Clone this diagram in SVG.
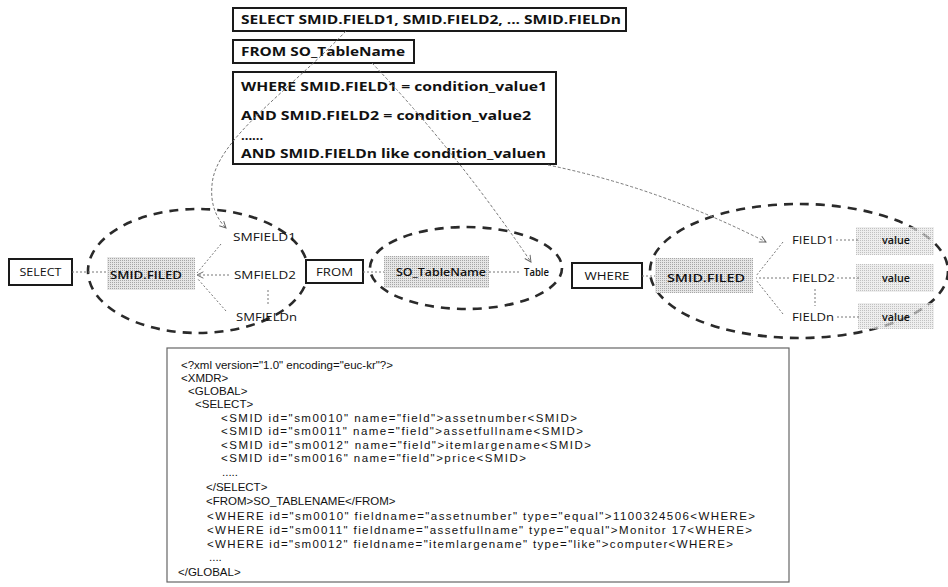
<svg xmlns="http://www.w3.org/2000/svg" width="948" height="587" viewBox="0 0 948 587">
<style>
.q{font-family:"Open Sans","Noto Sans","Liberation Sans",sans-serif;font-weight:700;font-size:13px;fill:#111}
.n{font-family:"Open Sans","Noto Sans","Liberation Sans",sans-serif;font-size:11px;fill:#111}
.s{font-family:"Open Sans","Noto Sans","Liberation Sans",sans-serif;font-weight:600;font-size:11.5px;fill:#111}
.x{font-family:"Liberation Sans","Noto Sans",sans-serif;font-size:11.5px;fill:#111}
.box{fill:#fff;stroke:#1a1a1a;stroke-width:2}
.ell{fill:none;stroke:#2a2a2a;stroke-width:2.6;stroke-dasharray:9 7}
.shade{fill:url(#ht)}
.dot{fill:none;stroke:#777;stroke-width:1;stroke-dasharray:2 2}
.con{fill:none;stroke:#777;stroke-width:1;stroke-dasharray:3 2}
</style>
<defs>
<pattern id="ht" width="2" height="2" patternUnits="userSpaceOnUse">
<rect width="2" height="2" fill="#e6e6e6"/>
<rect width="1" height="1" fill="#a6a6a6"/>
</pattern>
<marker id="ar" viewBox="0 0 10 10" refX="9" refY="5" markerWidth="8" markerHeight="8" orient="auto" markerUnits="userSpaceOnUse">
<path d="M1,1 L9,5 L1,9" fill="none" stroke="#666" stroke-width="1.2"/>
</marker>
</defs>
<rect width="948" height="587" fill="#fff"/>

<g id="query-select">
<rect class="box" x="233" y="8" width="393" height="23"/>
<text class="q" x="241" y="24" textLength="380" lengthAdjust="spacingAndGlyphs">SELECT SMID.FIELD1, SMID.FIELD2, ... SMID.FIELDn</text>
</g>
<g id="query-from">
<rect class="box" x="233" y="40" width="181" height="23"/>
<text class="q" x="241" y="56" textLength="164" lengthAdjust="spacingAndGlyphs">FROM SO_TableName</text>
</g>
<g id="query-where">
<rect class="box" x="233" y="72" width="323" height="92"/>
<text class="q" x="241" y="91" textLength="306" lengthAdjust="spacingAndGlyphs">WHERE SMID.FIELD1  = condition_value1</text>
<text class="q" x="241" y="120" textLength="290" lengthAdjust="spacingAndGlyphs">AND SMID.FIELD2  = condition_value2</text>
<text class="q" x="241" y="140" font-size="6">......</text>
<text class="q" x="241" y="158" textLength="305" lengthAdjust="spacingAndGlyphs">AND SMID.FIELDn like condition_valuen</text>
</g>

<g id="select-group">
<ellipse class="ell" cx="198" cy="271" rx="110" ry="62"/>
<rect class="box" x="9" y="259" width="63" height="26"/>
<text class="n" x="40.5" y="276" text-anchor="middle" textLength="42" lengthAdjust="spacingAndGlyphs">SELECT</text>
<rect class="shade" x="107" y="257" width="88" height="33"/>
<text class="s" x="146" y="279" text-anchor="middle" textLength="72" lengthAdjust="spacingAndGlyphs">SMID.FILED</text>
<text class="n" x="233" y="241" textLength="63" lengthAdjust="spacingAndGlyphs">SMFIELD1</text>
<text class="n" x="234" y="279" textLength="62" lengthAdjust="spacingAndGlyphs">SMFIELD2</text>
<text class="n" x="236" y="321" textLength="61" lengthAdjust="spacingAndGlyphs">SMFIELDn</text>
</g>

<g id="from-group">
<ellipse class="ell" cx="466" cy="268" rx="96" ry="41"/>
<rect class="box" x="306" y="260" width="57" height="23"/>
<text class="n" x="334.5" y="276" text-anchor="middle" textLength="37" lengthAdjust="spacingAndGlyphs">FROM</text>
<rect class="shade" x="384" y="256" width="105" height="32"/>
<text class="s" x="441" y="276" text-anchor="middle" textLength="90" lengthAdjust="spacingAndGlyphs">SO_TableName</text>
<text class="s" x="524" y="276" textLength="25" lengthAdjust="spacingAndGlyphs">Table</text>
</g>

<g id="where-group">
<ellipse class="ell" cx="799" cy="271" rx="149" ry="67"/>
<rect class="box" x="572" y="263" width="70" height="25"/>
<text class="n" x="607" y="280" text-anchor="middle" textLength="45" lengthAdjust="spacingAndGlyphs">WHERE</text>
<rect class="shade" x="655" y="258" width="98" height="35"/>
<text class="s" x="706" y="282" text-anchor="middle" textLength="78" lengthAdjust="spacingAndGlyphs">SMID.FILED</text>
<text class="n" x="792" y="244" textLength="42" lengthAdjust="spacingAndGlyphs">FIELD1</text>
<text class="n" x="792" y="282" textLength="43" lengthAdjust="spacingAndGlyphs">FIELD2</text>
<text class="n" x="792" y="321" textLength="42" lengthAdjust="spacingAndGlyphs">FIELDn</text>
<rect class="shade" x="856" y="227" width="78" height="28" opacity="0.7"/>
<rect class="shade" x="856" y="264" width="78" height="28" opacity="0.7"/>
<rect class="shade" x="858" y="303" width="76" height="26" opacity="0.7"/>
<text class="s" x="882" y="244" textLength="28" lengthAdjust="spacingAndGlyphs">value</text>
<text class="s" x="882" y="282" textLength="28" lengthAdjust="spacingAndGlyphs">value</text>
<text class="s" x="882" y="321" textLength="28" lengthAdjust="spacingAndGlyphs">value</text>
</g>

<g id="connectors">
<path class="con" d="M346,31 C290,90 215,140 212,185 C210,205 217,219 226,228" marker-end="url(#ar)"/>
<path class="con" d="M372,63 Q455,150 531,262" marker-end="url(#ar)"/>
<path class="con" d="M548,165 Q660,188 766,242" marker-end="url(#ar)"/>
<path class="dot" d="M72,272 H107"/>
<path class="dot" d="M221,244 L197,273"/>
<path class="dot" d="M229,275 H197" marker-end="url(#ar)"/>
<path class="dot" d="M226,311 L197,278"/>
<path class="dot" d="M268,290 V304"/>
<path class="dot" d="M363,272 H384"/>
<path class="dot" d="M489,272 H521"/>
<path class="dot" d="M642,276 H655"/>
<path class="dot" d="M783,242 L756,276"/>
<path class="dot" d="M789,278 H756"/>
<path class="dot" d="M783,314 L756,280"/>
<path class="dot" d="M815,289 V306"/>
<path class="dot" d="M836,240 H858"/>
<path class="dot" d="M837,278 H860"/>
<path class="dot" d="M837,317 H860"/>
</g>

<g id="xml-box">
<rect x="167" y="348" width="622" height="234" fill="#fff" stroke="#666" stroke-width="1.2"/>
<text class="x" x="181" y="369">&lt;?xml version="1.0"  encoding="euc-kr"?&gt;</text>
<text class="x" x="181" y="382">&lt;XMDR&gt;</text>
<text class="x" x="188" y="395">&lt;GLOBAL&gt;</text>
<text class="x" x="195" y="408">&lt;SELECT&gt;</text>
<text class="x" x="221" y="422" textLength="356" lengthAdjust="spacing">&lt;SMID  id="sm0010"  name="field"&gt;assetnumber&lt;SMID&gt;</text>
<text class="x" x="221" y="435" textLength="362" lengthAdjust="spacing">&lt;SMID  id="sm0011"  name="field"&gt;assetfullname&lt;SMID&gt;</text>
<text class="x" x="221" y="449" textLength="370" lengthAdjust="spacing">&lt;SMID  id="sm0012"  name="field"&gt;itemlargename&lt;SMID&gt;</text>
<text class="x" x="221" y="462" textLength="305" lengthAdjust="spacing">&lt;SMID  id="sm0016"  name="field"&gt;price&lt;SMID&gt;</text>
<text class="x" x="222" y="476" font-size="8">.....</text>
<text class="x" x="206" y="491">&lt;/SELECT&gt;</text>
<text class="x" x="206" y="505">&lt;FROM&gt;SO_TABLENAME&lt;/FROM&gt;</text>
<text class="x" x="207" y="520" textLength="548" lengthAdjust="spacing">&lt;WHERE id="sm0010"  fieldname="assetnumber"   type="equal"&gt;1100324506&lt;WHERE&gt;</text>
<text class="x" x="207" y="534" textLength="545" lengthAdjust="spacing">&lt;WHERE id="sm0011"  fieldname="assetfullname"   type="equal"&gt;Monitor  17&lt;WHERE&gt;</text>
<text class="x" x="207" y="548" textLength="526" lengthAdjust="spacing">&lt;WHERE id="sm0012"  fieldname="itemlargename"   type="like"&gt;computer&lt;WHERE&gt;</text>
<text class="x" x="209" y="561" font-size="8">....</text>
<text class="x" x="178" y="576">&lt;/GLOBAL&gt;</text>
</g>
</svg>
